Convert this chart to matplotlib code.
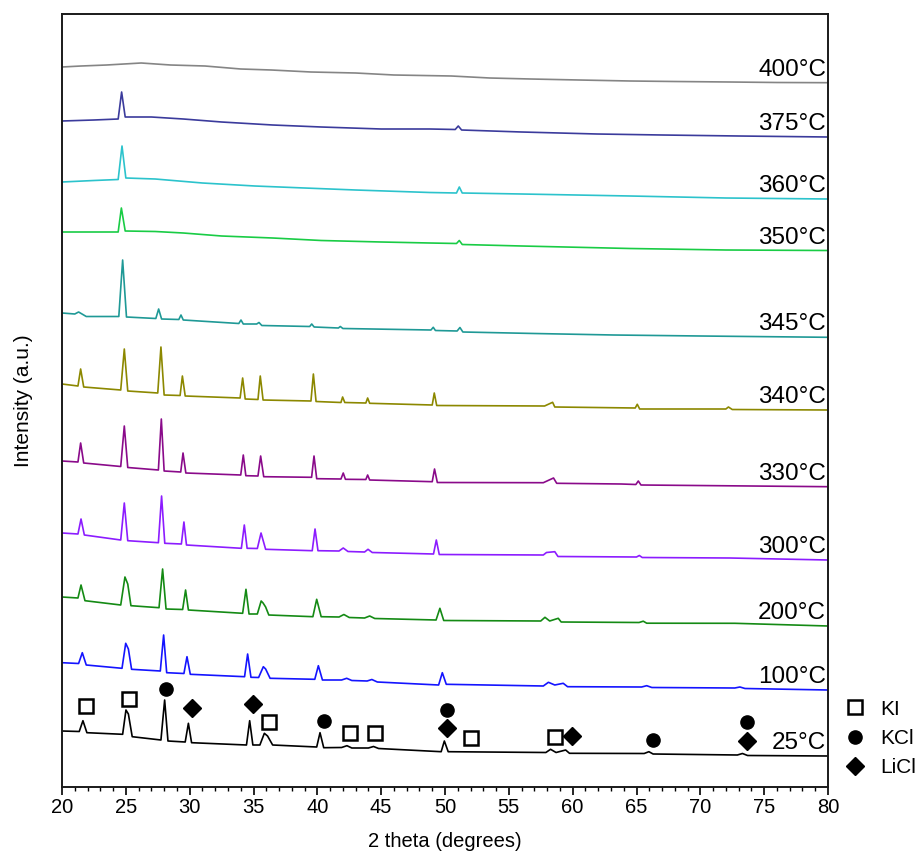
import numpy as np
import matplotlib
matplotlib.use("Agg")
import matplotlib.pyplot as plt
from matplotlib.lines import Line2D
from matplotlib.ticker import MultipleLocator

# XRD patterns, stacked; (2 theta, offset intensity) points
pat_400 = [(20.0, 720), (21.5, 721), (23.5, 722), (26.2, 724), (28.5, 722), (31.2, 721),
           (34.0, 718), (36.4, 717), (39.5, 715), (43.0, 714), (46.0, 712), (50.5, 711),
           (53.5, 709), (56.7, 708), (60.5, 707), (64.5, 706), (68.0, 705.5), (72.3, 705),
           (76.0, 704.5), (80.0, 704.3)]
pat_375 = [(20.0, 666), (22.5, 667), (24.4, 668), (24.67, 695), (24.95, 670), (27.0, 670),
           (29.5, 668), (32.5, 665), (36.5, 662), (40.3, 660), (45.0, 658), (48.8, 658),
           (50.8, 657.5), (51.04, 661), (51.3, 657), (56.0, 655), (61.9, 653), (67.0, 652),
           (73.0, 651), (80.0, 650)]
pat_360 = [(20.0, 605), (22.5, 606.5), (24.4, 607.5), (24.7, 641), (25.0, 609), (27.3, 608),
           (31.0, 604), (35.1, 601), (39.0, 599), (43.0, 597), (48.8, 594.5), (50.9, 594),
           (51.12, 600), (51.35, 594), (56.0, 593), (64.5, 591), (72.0, 589), (80.0, 588)]
pat_350 = [(20.0, 555), (22.5, 555), (24.4, 555), (24.65, 579), (24.95, 556), (27.3, 555.5),
           (29.5, 554), (32.5, 551), (36.5, 549), (40.3, 546.5), (45.0, 545), (48.8, 544),
           (50.9, 543.5), (51.12, 546.5), (51.35, 542.5), (56.0, 541), (64.5, 538.5),
           (72.0, 537), (80.0, 536.5)]
pat_345 = [(20.0, 474), (21.0, 473), (21.3, 475), (21.9, 470.5), (24.45, 470.5), (24.75, 527),
           (25.05, 470), (27.35, 468.5), (27.57, 478), (27.8, 468), (29.15, 467.5), (29.32, 472),
           (29.5, 467), (33.85, 463.5), (34.02, 467), (34.2, 463), (35.25, 463), (35.43, 464.5),
           (35.65, 461.5), (39.4, 460.5), (39.56, 463), (39.75, 460), (41.65, 459), (41.8, 460.5),
           (42.0, 458.5), (48.9, 457), (49.08, 459.7), (49.25, 456.5), (50.95, 456),
           (51.17, 459.5), (51.4, 455), (57.0, 453.5), (63.2, 452), (70.0, 451), (80.0, 449.7)]
pat_340 = [(20.0, 403), (21.25, 401), (21.46, 418), (21.7, 400), (24.6, 397), (24.88, 438),
           (25.15, 396), (27.5, 394), (27.75, 440), (28.0, 392), (29.25, 391.5), (29.43, 411),
           (29.65, 391), (33.95, 389), (34.15, 409), (34.35, 388), (35.35, 387.5), (35.53, 411),
           (35.75, 387), (39.5, 386), (39.69, 413), (39.9, 385.5), (41.85, 384.5), (41.98, 390),
           (42.15, 384.5), (43.8, 384), (43.94, 389), (44.1, 383.7), (49.0, 382), (49.16, 394),
           (49.35, 381.5), (57.8, 381), (58.43, 384.7), (58.6, 380), (64.9, 379), (65.06, 382.7),
           (65.25, 378), (72.0, 378), (72.2, 380), (72.5, 377.5), (80.0, 377)]
pat_330 = [(20.0, 326), (21.25, 325), (21.46, 344), (21.7, 324), (24.6, 320.5), (24.88, 361),
           (25.15, 319.5), (27.55, 317), (27.78, 368), (28.0, 316), (29.3, 315), (29.48, 334),
           (29.7, 314), (34.0, 312), (34.2, 332), (34.4, 311.3), (35.35, 311), (35.56, 331),
           (35.8, 310.3), (39.55, 309.7), (39.74, 331), (39.95, 308.3), (41.85, 308),
           (42.03, 314), (42.2, 307.7), (43.8, 307.5), (43.94, 312), (44.1, 307), (49.0, 305.3),
           (49.18, 318), (49.4, 304.5), (57.7, 304.3), (58.5, 309), (58.75, 303.7), (63.8, 303),
           (64.95, 302.5), (65.14, 306), (65.35, 302), (80.0, 300.3)]
pat_300 = [(20.0, 254), (21.25, 253), (21.49, 268), (21.75, 252), (24.6, 247), (24.88, 284),
           (25.15, 246.3), (27.55, 244.3), (27.8, 291), (28.05, 243.7), (29.35, 243),
           (29.55, 265), (29.75, 242), (34.05, 238.7), (34.28, 262), (34.5, 238.7), (35.3, 238.5),
           (35.59, 254), (35.95, 237.7), (39.6, 236.3), (39.82, 258), (40.05, 236.3), (41.7, 236),
           (42.03, 239), (42.4, 235.5), (43.7, 235), (43.97, 237.7), (44.3, 234.5), (49.1, 233),
           (49.32, 247), (49.55, 232.5), (57.7, 232), (57.95, 234.5), (58.6, 235.3),
           (58.85, 230.5), (65.0, 230), (65.22, 231.5), (65.45, 229.5), (72.3, 229), (80.0, 227)]
pat_200 = [(20.0, 190), (21.25, 189), (21.49, 202), (21.8, 186.3), (24.6, 182), (24.93, 210),
           (25.15, 203), (25.4, 181.3), (27.6, 179.3), (27.88, 218), (28.15, 178), (29.45, 177.5),
           (29.68, 197), (29.9, 177), (34.15, 173.7), (34.41, 197.7), (34.65, 173), (35.3, 173),
           (35.6, 186), (35.75, 184), (35.95, 180), (36.2, 172), (39.65, 170.3), (39.95, 187.7),
           (40.3, 170.3), (41.7, 170), (42.08, 172.5), (42.5, 169.5), (43.7, 169), (44.1, 171),
           (44.5, 168.5), (49.3, 167), (49.6, 178.7), (49.9, 166.5), (57.5, 166), (57.83, 169.7),
           (58.2, 166), (58.87, 168.7), (59.1, 165), (65.2, 164.5), (65.53, 165.8),
           (65.8, 163.8), (72.7, 163.7), (80.0, 161)]
pat_100 = [(20.0, 124.3), (21.3, 123.5), (21.59, 134.3), (21.9, 122), (24.7, 118.7),
           (24.99, 143.7), (25.2, 138), (25.45, 117.7), (27.7, 116), (27.96, 152), (28.2, 114.3),
           (29.55, 113.5), (29.79, 130.3), (30.05, 112.7), (34.3, 110.3), (34.54, 133),
           (34.8, 109.7), (35.4, 109.5), (35.77, 120.3), (35.95, 118), (36.3, 108.7),
           (39.8, 107.7), (40.08, 121.3), (40.4, 107), (41.9, 107), (42.3, 108.7), (42.7, 106.5),
           (43.9, 106), (44.27, 107.5), (44.7, 105), (49.5, 102), (49.79, 114.3), (50.1, 102.7),
           (57.7, 101), (58.1, 104.7), (58.6, 102), (59.26, 103.7), (59.6, 100.3), (65.4, 100),
           (65.8, 101.3), (66.2, 99.5), (72.7, 99), (73.1, 100), (73.5, 98.5), (80.0, 97)]
pat_25 = [(20.0, 56), (21.35, 55.5), (21.64, 66.3), (21.95, 54.3), (24.75, 52.7), (25.01, 77),
          (25.2, 73), (25.5, 50.3), (27.75, 47), (28.04, 87), (28.3, 46), (29.65, 45),
          (29.9, 63.7), (30.15, 44.3), (34.45, 42), (34.7, 66.3), (34.95, 42), (35.5, 42),
          (35.85, 53.7), (36.1, 51), (36.5, 42), (39.95, 40), (40.21, 54.3), (40.5, 39.3),
          (41.9, 39.5), (42.32, 41.3), (42.7, 39), (44.0, 39), (44.4, 40.5), (44.8, 38.5),
          (49.7, 35.3), (49.95, 46), (50.25, 35.3), (57.9, 34.5), (58.27, 37.7), (58.7, 34.5),
          (59.45, 37), (59.75, 33.7), (65.6, 33.5), (65.97, 35.3), (66.3, 33), (72.9, 32),
          (73.3, 33.5), (73.7, 31.5), (80.0, 31)]

patterns = [pat_400, pat_375, pat_360, pat_350, pat_345, pat_340,
            pat_330, pat_300, pat_200, pat_100, pat_25]
temps = ["400°C", "375°C", "360°C", "350°C", "345°C", "340°C",
         "330°C", "300°C", "200°C", "100°C", "25°C"]
colors = ["#858585", "#3b3b9c", "#2cc3cc", "#19cc45", "#1f9996", "#8c8800",
          "#8a0a8a", "#8c1cff", "#148a14", "#1414ff", "#000000"]

# phase markers on the 25 °C pattern
ki_pos = [(21.88, 81), (25.25, 88.5), (36.2, 64.7), (42.58, 53.7), (44.52, 54.3),
          (52.0, 49.5), (58.62, 50.3)]
kcl_pos = [(28.15, 98), (40.49, 66.3), (50.13, 77), (66.27, 47), (73.63, 64.7)]
licl_pos = [(30.15, 78.7), (34.98, 82.7), (50.13, 58.7), (59.92, 51), (73.63, 46)]

fig = plt.figure(figsize=(9.17, 8.51), dpi=100)
ax = fig.add_axes([62 / 917, 64 / 851, 766 / 917, 773 / 851])

for pat, lab, col in zip(patterns, temps, colors):
    xy = np.array(pat)
    ax.plot(xy[:, 0], xy[:, 1], color=col, lw=1.2)
    ax.text(79.85, xy[-1, 1] + 13, lab, ha="right", va="center",
            fontsize=17.5, family="Liberation Sans")

mk = dict(color="black", linestyle="none")
ki = np.array(ki_pos)
ax.plot(ki[:, 0], ki[:, 1], marker="s", markersize=10.5, markerfacecolor="white",
        markeredgewidth=1.8, **mk)
kcl = np.array(kcl_pos)
ax.plot(kcl[:, 0], kcl[:, 1], marker="o", markersize=9.5, **mk)
licl = np.array(licl_pos)
ax.plot(licl[:, 0], licl[:, 1], marker="D", markersize=9.5, **mk)

ax.set_xlim(20, 80)
ax.set_ylim(0, 773)
ax.xaxis.set_major_locator(MultipleLocator(5))
ax.xaxis.set_minor_locator(MultipleLocator(1))
ax.tick_params(axis="x", which="major", direction="out", length=6, width=1.2,
               labelsize=14.5, pad=2)
ax.tick_params(axis="x", which="minor", direction="out", length=3, width=1)
ax.set_yticks([])
for lbl in ax.get_xticklabels():
    lbl.set_family("Liberation Sans")
for sp in ax.spines.values():
    sp.set_linewidth(1.4)
    sp.set_color("#1a1a1a")

ax.set_xlabel("2 theta (degrees)", fontsize=14.5, family="Liberation Sans", labelpad=11)
ax.set_ylabel("Intensity (a.u.)", fontsize=15, family="Liberation Sans", labelpad=21)

handles = [
    Line2D([], [], marker="s", markersize=10.5, markerfacecolor="white",
           markeredgewidth=1.8, **mk),
    Line2D([], [], marker="o", markersize=9.5, **mk),
    Line2D([], [], marker="D", markersize=9.5, **mk),
]
ax.legend(handles, ["KI", "KCl", "LiCl"], loc="upper left", bbox_to_anchor=(1.0, 0.132),
          frameon=False, handlelength=1.2, handletextpad=0.6, labelspacing=0.5,
          borderaxespad=0.3, prop={"family": "Liberation Sans", "size": 15})

fig.savefig("out.png", dpi=100)
